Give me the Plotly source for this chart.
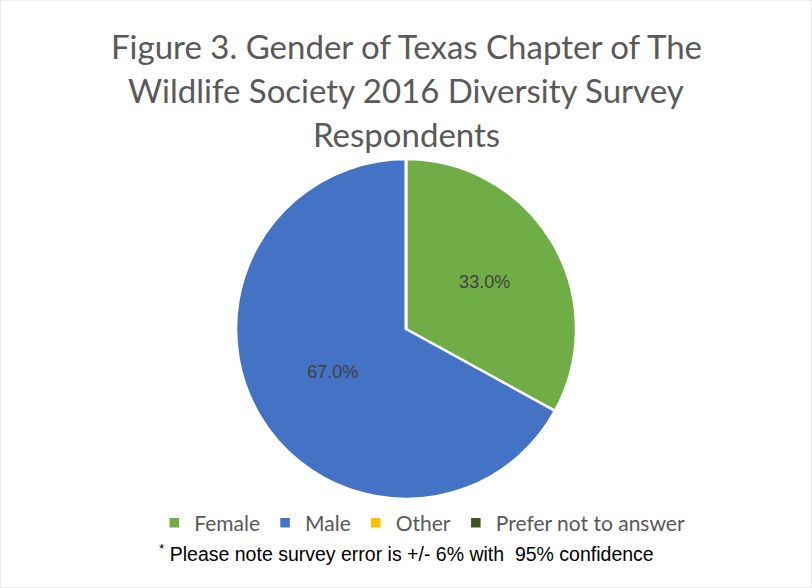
import plotly.graph_objects as go

labels = ["Female", "Male", "Other", "Prefer not to answer"]
values = [33.0, 67.0, 0.0, 0.0]
colors = ["#70AD47", "#4472C4", "#FFC000", "#375623"]
title_lines = [
    "Figure 3. Gender of Texas Chapter of The",
    "Wildlife Society 2016 Diversity Survey",
    "Respondents",
]
footnote = "<sup>*</sup> Please note survey error is +/- 6% with  95% confidence"

W, H = 812, 588
cx, cy, r = 406, 329, 170

texts = [f"{v:.1f}%" if v > 0 else "" for v in values]

fig = go.Figure(go.Pie(
    labels=labels,
    values=values,
    text=texts,
    textinfo="text",
    textposition="inside",
    insidetextorientation="horizontal",
    sort=False,
    direction="clockwise",
    rotation=0,
    marker=dict(colors=colors, line=dict(color="white", width=2.5)),
    textfont=dict(family="Liberation Sans", size=18, color="#404040"),
    domain=dict(x=[(cx - r) / W, (cx + r) / W], y=[1 - (cy + r) / H, 1 - (cy - r) / H]),
    showlegend=True,
    hoverinfo="label+percent",
))

annotations = []
for i, line in enumerate(title_lines):
    annotations.append(dict(
        text=line, x=0.5, xref="paper", y=1 - (46 + 44 * i) / H, yref="paper",
        xanchor="center", yanchor="middle", showarrow=False,
        font=dict(family="Lato", size=33, color="#595959"),
    ))
annotations.append(dict(
    text=footnote, x=0.5, xref="paper", y=1 - 553 / H, yref="paper",
    xanchor="center", yanchor="middle", showarrow=False,
    font=dict(family="Liberation Sans", size=19.5, color="#000000"),
))

fig.update_layout(
    width=W, height=H,
    margin=dict(l=0, r=0, t=0, b=0),
    paper_bgcolor="white",
    annotations=annotations,
    legend=dict(
        orientation="h", x=0.52, xanchor="center", y=1 - 523 / H, yanchor="middle",
        font=dict(family="Lato", size=21, color="#595959"),
        itemwidth=30, tracegroupgap=0,
    ),
    shapes=[dict(type="rect", xref="paper", yref="paper", x0=0, y0=0, x1=1, y1=1,
                 line=dict(color="#D9D9D9", width=1))],
)

fig.write_html("out.html")
